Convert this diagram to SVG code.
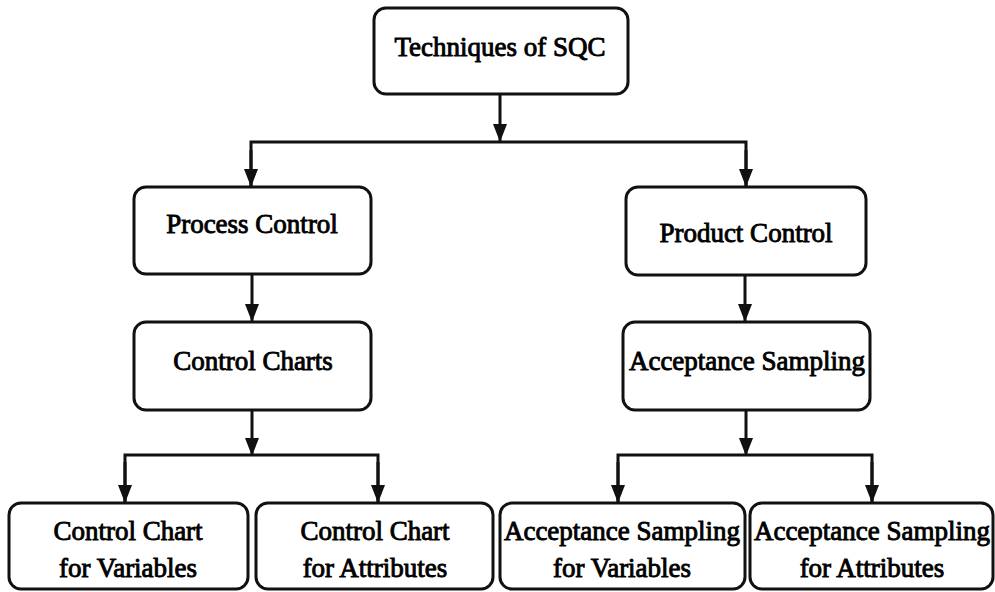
<svg xmlns="http://www.w3.org/2000/svg" width="995" height="592" viewBox="0 0 995 592">
<style>
.box{fill:#fff;stroke:#111;stroke-width:3}
.t{font-family:'Liberation Serif','Times New Roman',Times,serif;font-size:27px;fill:#000;stroke:#000;stroke-width:0.9;text-anchor:middle}
.c{fill:none;stroke:#111;stroke-width:3}
</style>
<defs>
<marker id="ah" viewBox="0 0 18 14" markerWidth="18" markerHeight="14" refX="17" refY="7" orient="auto" markerUnits="userSpaceOnUse">
<path d="M0,0 L18,7 L0,14 z" fill="#111"/>
</marker>
</defs>
<rect width="995" height="592" fill="#fff"/>
<g id="connectors">
<line class="c" x1="500" y1="94" x2="500" y2="141" marker-end="url(#ah)"/>
<polyline class="c" points="251,186 251,142 746,142 746,186"/>
<line class="c" x1="251" y1="150" x2="251" y2="186" marker-end="url(#ah)"/>
<line class="c" x1="746" y1="150" x2="746" y2="186" marker-end="url(#ah)"/>
<line class="c" x1="252" y1="274" x2="252" y2="321" marker-end="url(#ah)"/>
<line class="c" x1="745" y1="275" x2="745" y2="321" marker-end="url(#ah)"/>
<line class="c" x1="252" y1="410" x2="252" y2="455" marker-end="url(#ah)"/>
<polyline class="c" points="125,502 125,455 378,455 378,502"/>
<line class="c" x1="125" y1="462" x2="125" y2="502" marker-end="url(#ah)"/>
<line class="c" x1="378" y1="462" x2="378" y2="502" marker-end="url(#ah)"/>
<line class="c" x1="746" y1="410" x2="746" y2="455" marker-end="url(#ah)"/>
<polyline class="c" points="618,502 618,455 872,455 872,502"/>
<line class="c" x1="618" y1="462" x2="618" y2="502" marker-end="url(#ah)"/>
<line class="c" x1="872" y1="462" x2="872" y2="502" marker-end="url(#ah)"/>
</g>
<g id="n_sqc"><rect class="box" x="374" y="8" width="254" height="86" rx="12"/><text class="t" x="500" y="56">Techniques of SQC</text></g>
<g id="n_process"><rect class="box" x="134" y="187" width="237" height="87" rx="12"/><text class="t" x="252" y="233">Process Control</text></g>
<g id="n_product"><rect class="box" x="626" y="187" width="240" height="88" rx="12"/><text class="t" x="746" y="242">Product Control</text></g>
<g id="n_charts"><rect class="box" x="134" y="322" width="237" height="88" rx="12"/><text class="t" x="253" y="370">Control Charts</text></g>
<g id="n_accept"><rect class="box" x="623" y="322" width="247" height="88" rx="12"/><text class="t" x="747" y="370">Acceptance Sampling</text></g>
<g id="n_ccv"><rect class="box" x="9" y="503" width="239" height="86" rx="12"/><text class="t" x="128" y="540">Control Chart</text><text class="t" x="128" y="577">for Variables</text></g>
<g id="n_cca"><rect class="box" x="256" y="503" width="237" height="86" rx="12"/><text class="t" x="375" y="540">Control Chart</text><text class="t" x="375" y="577">for Attributes</text></g>
<g id="n_asv"><rect class="box" x="500" y="503" width="245" height="86" rx="12"/><text class="t" x="622" y="540">Acceptance Sampling</text><text class="t" x="622" y="577">for Variables</text></g>
<g id="n_asa"><rect class="box" x="750" y="503" width="243" height="86" rx="12"/><text class="t" x="872" y="540">Acceptance Sampling</text><text class="t" x="872" y="577">for Attributes</text></g>
</svg>
